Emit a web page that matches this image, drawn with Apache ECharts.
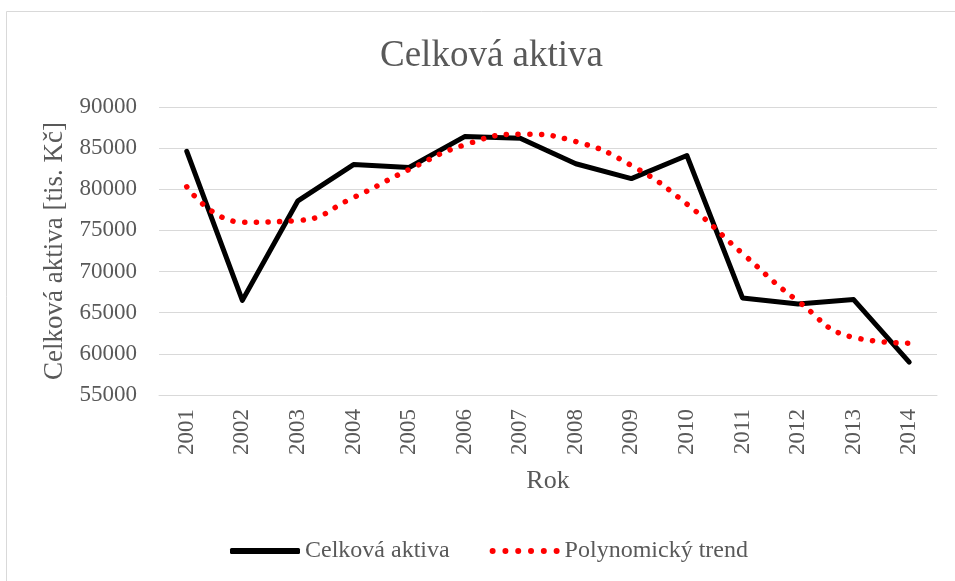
<!DOCTYPE html>
<html>
<head>
<meta charset="utf-8">
<script src="https://cdn.jsdelivr.net/npm/echarts@6/dist/echarts.min.js"></script>
<style>html,body{margin:0;padding:0;background:#fff;}#c{width:955px;height:581px;}</style>
</head>
<body>
<div id="c"></div>
<script>
const years = ['2001','2002','2003','2004','2005','2006','2007','2008','2009','2010','2011','2012','2013','2014'];
const aktiva = [84600, 66500, 78600, 83000, 82650, 86400, 86200, 83100, 81300, 84100, 66800, 66050, 66600, 59000];
const trend = [80300, 76000, 76200, 79000, 82400, 85400, 86700, 85800, 82900, 78200, 72200, 66400, 62000, 61300];
const yTicks = {min: 55000, max: 90000, interval: 5000};

const font = 'Liberation Serif, Times New Roman, serif';
const txt = '#595959';

// legend icon of six red dots
let dotPath = 'path://';
for (let i = 0; i < 6; i++) {
  const cx = 3 + i * 12.8;
  dotPath += `M${cx - 3},3 A3,3 0 1,1 ${cx + 3},3 A3,3 0 1,1 ${cx - 3},3 Z `;
}

const chart = echarts.init(document.getElementById('c'), null, {renderer: 'canvas'});
chart.setOption({
  animation: false,
  backgroundColor: '#fff',
  graphic: [{
    type: 'rect', silent: true,
    shape: {x: 6.5, y: 11.5, width: 1200, height: 1200},
    style: {fill: 'none', stroke: '#d9d9d9', lineWidth: 1}
  }],
  title: {
    text: 'Celková aktiva', left: 375, top: 33,
    textStyle: {fontFamily: font, fontSize: 37, fontWeight: 'normal', color: txt}
  },
  grid: {left: 159, right: 18, top: 107, bottom: 186},
  legend: {
    bottom: 13, left: 225,
    itemWidth: 70, itemHeight: 6, itemGap: 40,
    textStyle: {fontFamily: font, fontSize: 24, color: txt},
    itemStyle: {borderWidth: 0},
    data: [
      {name: 'Celková aktiva', icon: 'roundRect'},
      {name: 'Polynomický trend', icon: dotPath}
    ]
  },
  xAxis: {
    type: 'category', data: years, boundaryGap: true,
    name: 'Rok', nameLocation: 'middle', nameGap: 73,
    nameTextStyle: {fontFamily: font, fontSize: 26, color: txt},
    axisLine: {show: true, lineStyle: {color: '#d9d9d9', width: 1}},
    axisTick: {show: false},
    axisLabel: {rotate: 90, fontFamily: font, fontSize: 23, color: txt, margin: 14}
  },
  yAxis: {
    type: 'value', min: yTicks.min, max: yTicks.max, interval: yTicks.interval,
    name: 'Celková aktiva [tis. Kč]', nameLocation: 'middle', nameGap: 91,
    nameTextStyle: {fontFamily: font, fontSize: 27, color: txt},
    axisLine: {show: false}, axisTick: {show: false},
    axisLabel: {fontFamily: font, fontSize: 23, color: txt, margin: 22, formatter: v => String(v)},
    splitLine: {lineStyle: {color: '#d9d9d9', width: 1}}
  },
  series: [
    {
      name: 'Celková aktiva', type: 'line', data: aktiva,
      symbol: 'none', smooth: false,
      lineStyle: {color: '#000', width: 5, cap: 'round', join: 'round'},
      itemStyle: {color: '#000'}
    },
    {
      name: 'Polynomický trend', type: 'line', data: trend,
      symbol: 'none', smooth: 0.5,
      lineStyle: {color: '#ff0000', width: 5.5, type: [0.1, 11.6], cap: 'round'},
      itemStyle: {color: '#ff0000'}
    }
  ]
});
</script>
</body>
</html>
